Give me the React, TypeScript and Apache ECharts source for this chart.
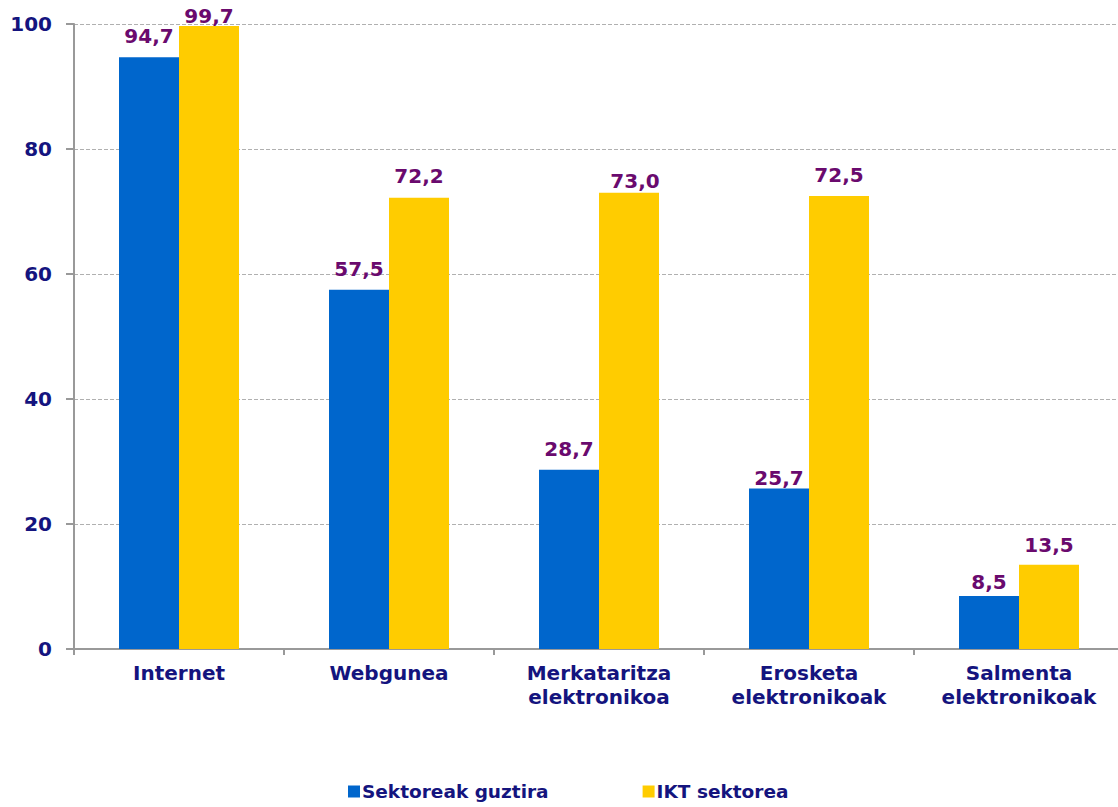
import React, { useEffect, useRef } from "react";
import * as echarts from "echarts";

const categories = [
  "Internet",
  "Webgunea",
  "Merkataritza\nelektronikoa",
  "Erosketa\nelektronikoak",
  "Salmenta\nelektronikoak",
];
const seriesNames = ["Sektoreak guztira", "IKT sektorea"];
const sektoreakGuztira = [94.7, 57.5, 28.7, 25.7, 8.5];
const iktSektorea = [99.7, 72.2, 73.0, 72.5, 13.5];
const yTicks = { min: 0, max: 100, interval: 20 };

// label placement (style only): gap above each bar and horizontal nudge, as in the original
const blueLabelGap = [11.5, 10.5, 10.5, 0.5, 3.5];
const yellowLabelGap = [-0.5, 11.5, 1.5, 10.5, 9.5];
const yellowLabelShiftX = [0, 0, 6, 0, 0];
const blueLabelShiftX = [0, 0, 0, 0, 0];

const FONT = "'DejaVu Sans', Verdana, sans-serif";
const NAVY = "#14147e";
const PURPLE = "#6a0a6e";

export default function App() {
  const ref = useRef<HTMLDivElement>(null);
  useEffect(() => {
    if (!ref.current) return;
    const chart = echarts.init(ref.current, undefined, { renderer: "svg" });
    const label = {
      show: true,
      position: "top",
      distance: 11,
      color: PURPLE,
      fontFamily: FONT,
      fontWeight: "bold",
      fontSize: 20,
      formatter: (p: any) => Number(p.value).toFixed(1).replace(".", ","),
    };
    const withLabels = (arr: number[], gaps: number[], shifts: number[]) =>
      arr.map((v, i) => ({ value: v, label: { distance: gaps[i], offset: [shifts[i], 0] } }));
    chart.setOption({
      animation: false,
      backgroundColor: "#ffffff",
      grid: { left: 74, top: 24, width: 1050, bottom: 158, containLabel: false },
      legend: {
        left: 348,
        top: 782,
        padding: 0,
        itemWidth: 12,
        itemHeight: 12,
        itemGap: 94,
        icon: "rect",
        textStyle: {
          color: NAVY,
          fontFamily: FONT,
          fontWeight: "bold",
          fontSize: 18.5,
          padding: [0, 0, 0, -3],
        },
        data: seriesNames,
      },
      xAxis: {
        type: "category",
        data: categories,
        axisLine: { lineStyle: { color: "#999999", width: 2 } },
        axisTick: { show: true, length: 6, lineStyle: { color: "#999999", width: 2 } },
        axisLabel: {
          color: NAVY,
          fontFamily: FONT,
          fontWeight: "bold",
          fontSize: 20,
          lineHeight: 24,
          margin: 12,
          interval: 0,
        },
      },
      yAxis: {
        type: "value",
        min: yTicks.min,
        max: yTicks.max,
        interval: yTicks.interval,
        axisLine: { show: true, lineStyle: { color: "#999999", width: 2 } },
        axisTick: { show: true, length: 8, lineStyle: { color: "#999999", width: 2 } },
        axisLabel: {
          color: NAVY,
          fontFamily: FONT,
          fontWeight: "bold",
          fontSize: 20,
          margin: 22,
        },
        splitLine: { lineStyle: { color: "#b0b0b0", type: [4, 2], width: 1 } },
      },
      series: [
        {
          name: seriesNames[0],
          type: "bar",
          data: withLabels(sektoreakGuztira, blueLabelGap, blueLabelShiftX),
          barWidth: 60,
          barGap: "0%",
          itemStyle: { color: "#0066cc" },
          label,
        },
        {
          name: seriesNames[1],
          type: "bar",
          data: withLabels(iktSektorea, yellowLabelGap, yellowLabelShiftX),
          barWidth: 60,
          barGap: "0%",
          itemStyle: { color: "#ffcc00" },
          label,
        },
      ],
    });
    return () => chart.dispose();
  }, []);
  return (
    <div
      ref={ref}
      style={{ position: "fixed", left: 0, top: 0, width: 1130, height: 807, background: "#fff" }}
    />
  );
}
